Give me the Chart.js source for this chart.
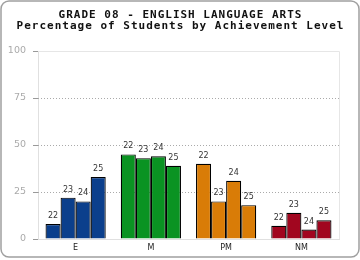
<!DOCTYPE html>
<html>
<head>
<meta charset="utf-8">
<script src="https://cdn.jsdelivr.net/npm/chart.js@4/dist/chart.umd.min.js"></script>
<style>
html,body{margin:0;padding:0;background:#fff;}
canvas{display:block;}
</style>
</head>
<body>
<canvas id="c" width="360" height="260"></canvas>
<script>
const titleLines = ['GRADE 08 - ENGLISH LANGUAGE ARTS', 'Percentage of Students by Achievement Level'];
const categories = ['E', 'M', 'PM', 'NM'];
const years = ['22', '23', '24', '25'];
const s22 = [8, 45, 40, 7];
const s23 = [22, 43, 20, 14];
const s24 = [20, 44, 31, 5];
const s25 = [33, 39, 18, 10];
const yTicks = [0, 25, 50, 75, 100];
const catColors = ['#0b3f8c', '#0a9322', '#d97c07', '#a1061f'];

const seriesValues = [s22, s23, s24, s25];

const decor = {
  id: 'decor',
  beforeDatasetsDraw(chart) {
    const ctx = chart.ctx, a = chart.chartArea, y = chart.scales.y;
    ctx.save();
    ctx.lineWidth = 1;
    ctx.strokeStyle = '#aaa';
    ctx.setLineDash([1, 2]);
    yTicks.forEach(v => {
      if (v === 0 || v === 100) return;
      const py = Math.round(y.getPixelForValue(v)) + 0.5;
      ctx.beginPath(); ctx.moveTo(a.left, py); ctx.lineTo(a.right, py); ctx.stroke();
    });
    ctx.setLineDash([]);
    ctx.strokeStyle = '#e6e6e6';
    const top = Math.round(y.getPixelForValue(100)) + 0.5;
    const r = Math.round(a.right) + 0.5;
    ctx.beginPath(); ctx.moveTo(a.left, top); ctx.lineTo(r, top); ctx.lineTo(r, a.bottom); ctx.stroke();
    ctx.restore();
  },
  afterDatasetsDraw(chart) {
    const ctx = chart.ctx;
    ctx.save();
    ctx.font = '8px "DejaVu Sans"';
    ctx.fillStyle = '#333';
    ctx.textAlign = 'center';
    ctx.textBaseline = 'bottom';
    chart.data.datasets.forEach((ds, i) => {
      chart.getDatasetMeta(i).data.forEach(el => {
        ctx.fillText(ds.label, el.x, el.y - 4);
      });
    });
    ctx.restore();
  },
  afterDraw(chart) {
    const ctx = chart.ctx;
    ctx.save();
    ctx.fillStyle = '#111';
    ctx.font = 'bold 11px "DejaVu Sans Mono"';
    ctx.letterSpacing = '1px';
    ctx.textAlign = 'center';
    ctx.textBaseline = 'alphabetic';
    ctx.fillText(titleLines[0], 180.5, 17.5);
    ctx.fillText(titleLines[1], 180.5, 29);
    ctx.letterSpacing = '0px';
    ctx.strokeStyle = '#a0a0a0';
    ctx.lineWidth = 1.5;
    ctx.beginPath();
    ctx.roundRect(1, 1, 358, 256, 8);
    ctx.stroke();
    ctx.restore();
  }
};

new Chart(document.getElementById('c'), {
  type: 'bar',
  data: {
    labels: categories,
    datasets: years.map((yr, i) => ({
      label: yr,
      data: seriesValues[i],
      backgroundColor: catColors,
      borderColor: '#000',
      borderWidth: 1.2,
      borderSkipped: 'bottom',
      barPercentage: 1,
      categoryPercentage: 0.8
    }))
  },
  options: {
    responsive: false,
    animation: false,
    devicePixelRatio: 1,
    layout: { padding: { top: 51, right: 21, left: 0, bottom: 0 } },
    plugins: { legend: { display: false }, tooltip: { enabled: false }, title: { display: false } },
    scales: {
      x: {
        grid: { display: false, drawTicks: false },
        border: { display: true, color: '#e0e0e0' },
        ticks: { color: '#222', font: { family: 'DejaVu Sans', size: 8 }, padding: 4 },
        afterFit: s => { s.height = 21; }
      },
      y: {
        min: 0, max: 100,
        afterBuildTicks: s => { s.ticks = yTicks.map(v => ({ value: v })); },
        ticks: { color: '#aaa', font: { family: 'DejaVu Sans', size: 9.5 }, padding: 7 },
        grid: { drawOnChartArea: false, drawTicks: true, tickLength: 5, tickColor: '#999', color: '#999' },
        border: { display: true, color: '#e0e0e0' },
        afterFit: s => { s.width = 38; }
      }
    }
  },
  plugins: [decor]
});
</script>
</body>
</html>
